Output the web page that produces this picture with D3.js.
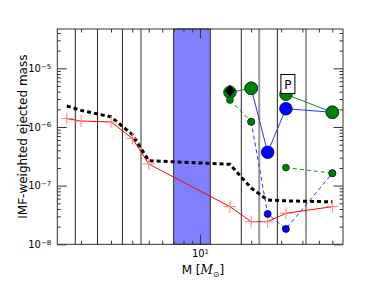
<!DOCTYPE html>
<html>
<head>
<meta charset="utf-8">
<script src="https://cdn.jsdelivr.net/npm/d3@7"></script>
<style>
  body { margin: 0; background: #fff; }
  text { font-family: "DejaVu Sans", sans-serif; fill: #000; }
</style>
</head>
<body>
<svg id="chart" width="382" height="288"></svg>
<script>
// masses of the low mass models and the two yield curves
var masses = [1.65, 2, 3, 4, 5, 15, 20, 25, 32, 60];
var redYield = [1.39e-6, 1.26e-6, 1.22e-6, 6.4e-7, 2.34e-7, 4.38e-8, 2.43e-8, 2.43e-8, 3.38e-8, 4.38e-8];
var blackYield = [2.28e-6, 1.92e-6, 1.49e-6, 7.45e-7, 2.66e-7, 2.31e-7, 9.1e-8, 5.7e-8, 5.5e-8, 5.3e-8];

// massive star models (null = no model)
var hiMasses = [15, 20, 25, 32, 60];
var greenBig = [3.9e-6, 4.56e-6, null, 3.6e-6, 1.78e-6];
var greenSmall = [2.88e-6, 1.23e-6, null, 2.03e-7, 1.63e-7];
var blueBig = [null, 4.56e-6, 3.7e-7, 2.05e-6, 1.78e-6];
var blueSmall = [null, 1.23e-6, 3.3e-8, 1.83e-8, 1.63e-7];
var diamondMass = [15];
var diamondYield = [4.15e-6];
var labelMass = [32];
var labelYield = [5.4e-6];
var labelText = ["P"];

// vertical reference lines and the shaded band
var darkLines = [1.85, 2.5, 3.5, 17.5, 28.5];
var grayLines = [4.5, 22.3, 42];
var band = [7, 11.5];

// ticks
var xMajor = [10];
var xMinor = [2, 3, 4, 5, 6, 7, 8, 9, 20, 30, 40, 50, 60];
var yMajor = [1e-8, 1e-7, 1e-6, 1e-5];
var yMajorLabels = ["−8", "−7", "−6", "−5"];
var yMinor = [];
[1e-8, 1e-7, 1e-6, 1e-5].forEach(function(d) {
  [2, 3, 4, 5, 6, 7, 8, 9].forEach(function(k) { if (d * k < 4.68e-5) yMinor.push(d * k); });
});

var svg = d3.select("#chart"),
    margin = {top: 29, right: 39, bottom: 43.7, left: 57.3},
    width = +svg.attr("width") - margin.left - margin.right,
    height = +svg.attr("height") - margin.top - margin.bottom;

var x = d3.scaleLog().domain([1.45, 69.3]).range([0, width]),
    y = d3.scaleLog().domain([1e-8, 4.68e-5]).range([height, 0]);

var g = svg.append("g")
    .attr("transform", "translate(" + margin.left + "," + margin.top + ")");

// shaded band
g.append("rect")
    .attr("x", x(band[0]))
    .attr("y", 0)
    .attr("width", x(band[1]) - x(band[0]))
    .attr("height", height)
    .attr("fill", "#8080ff")
    .attr("stroke", "#333")
    .attr("stroke-width", 1);

// vertical lines
g.selectAll(".vdark")
  .data(darkLines)
  .enter().append("line")
    .attr("x1", function(d) { return x(d); })
    .attr("x2", function(d) { return x(d); })
    .attr("y1", 0).attr("y2", height)
    .attr("stroke", "#222").attr("stroke-width", 1);

g.selectAll(".vgray")
  .data(grayLines)
  .enter().append("line")
    .attr("x1", function(d) { return x(d); })
    .attr("x2", function(d) { return x(d); })
    .attr("y1", 0).attr("y2", height)
    .attr("stroke", "#999").attr("stroke-width", 2);

// lines
function makeLine(xs) {
  return d3.line()
    .defined(function(d) { return d !== null; })
    .x(function(d, i) { return x(xs[i]); })
    .y(function(d) { return y(d); });
}

g.append("path")
    .attr("d", makeLine(masses)(redYield))
    .attr("fill", "none").attr("stroke", "#ff0000").attr("stroke-width", 1);

g.append("path")
    .attr("d", makeLine(masses)(blackYield))
    .attr("fill", "none").attr("stroke", "#000").attr("stroke-width", 3)
    .attr("stroke-dasharray", "4,3");

// red plus markers
var plus = g.selectAll(".plus")
  .data(redYield)
  .enter().append("g")
    .attr("transform", function(d, i) { return "translate(" + x(masses[i]) + "," + y(d) + ")"; });
plus.append("line").attr("x1", -6).attr("x2", 6).attr("stroke", "#ff8080");
plus.append("line").attr("y1", -6).attr("y2", 6).attr("stroke", "#ff8080");

// blue series first so the green ones sit on top
g.append("path")
    .attr("d", makeLine(hiMasses)(blueBig))
    .attr("fill", "none").attr("stroke", "#3030ff").attr("stroke-width", 1);
g.append("path")
    .attr("d", makeLine(hiMasses)(blueSmall))
    .attr("fill", "none").attr("stroke", "#3030ff").attr("stroke-width", 1)
    .attr("stroke-dasharray", "4,3");
g.append("path")
    .attr("d", makeLine(hiMasses)(greenBig))
    .attr("fill", "none").attr("stroke", "#1a8a1a").attr("stroke-width", 1);
g.append("path")
    .attr("d", makeLine(hiMasses)(greenSmall))
    .attr("fill", "none").attr("stroke", "#1a8a1a").attr("stroke-width", 1)
    .attr("stroke-dasharray", "4,3");

function dots(values, r, fill, edge) {
  g.append("g").selectAll("circle")
    .data(values.map(function(v, i) { return {m: hiMasses[i], v: v}; })
      .filter(function(d) { return d.v !== null; }))
    .enter().append("circle")
      .attr("cx", function(d) { return x(d.m); })
      .attr("cy", function(d) { return y(d.v); })
      .attr("r", r)
      .attr("fill", fill)
      .attr("stroke", edge)
      .attr("stroke-width", 0.8);
}

dots(blueBig, 6.3, "#0000ff", "#00007a");
dots(blueSmall, 3.5, "#0000ff", "#00007a");
dots(greenBig, 6.3, "#008000", "#004000");
dots(greenSmall, 3.4, "#008000", "#004000");

// black diamond
g.selectAll(".diamond")
  .data(diamondYield)
  .enter().append("path")
    .attr("transform", function(d, i) { return "translate(" + x(diamondMass[i]) + "," + y(d) + ")"; })
    .attr("d", "M0,-6L5,0L0,6L-5,0Z")
    .attr("fill", "#000");

// boxed label
var lab = g.selectAll(".lab")
  .data(labelYield)
  .enter().append("g")
    .attr("transform", function(d, i) { return "translate(" + (x(labelMass[i]) + 2) + "," + y(d) + ")"; });
lab.append("rect")
    .attr("x", -7).attr("y", -9.5).attr("width", 14).attr("height", 19)
    .attr("fill", "#fff").attr("stroke", "#000").attr("stroke-width", 1);
lab.append("text")
    .attr("text-anchor", "middle").attr("y", 4.5)
    .style("font-size", "12px")
    .text(function(d, i) { return labelText[i]; });

// axes, ticks pointing inward on all four sides
g.append("g")
    .attr("transform", "translate(0," + height + ")")
    .call(d3.axisBottom(x).tickValues(xMinor).tickSizeInner(-3.5).tickSizeOuter(0).tickFormat(""));
var xb = g.append("g")
    .attr("class", "xmajor")
    .attr("transform", "translate(0," + height + ")")
    .call(d3.axisBottom(x).tickValues(xMajor).tickSizeInner(-9.5).tickSizeOuter(0).tickPadding(6));
g.append("g")
    .call(d3.axisTop(x).tickValues(xMinor).tickSizeInner(-3.5).tickSizeOuter(0).tickFormat(""));
g.append("g")
    .call(d3.axisTop(x).tickValues(xMajor).tickSizeInner(-9.5).tickSizeOuter(0).tickFormat(""));

g.append("g")
    .call(d3.axisLeft(y).tickValues(yMinor).tickSizeInner(-3.5).tickSizeOuter(0).tickFormat(""));
var yl = g.append("g")
    .call(d3.axisLeft(y).tickValues(yMajor).tickSizeInner(-9.5).tickSizeOuter(0).tickPadding(6));
g.append("g")
    .attr("transform", "translate(" + width + ",0)")
    .call(d3.axisRight(y).tickValues(yMinor).tickSizeInner(-3.5).tickSizeOuter(0).tickFormat(""));
g.append("g")
    .attr("transform", "translate(" + width + ",0)")
    .call(d3.axisRight(y).tickValues(yMajor).tickSizeInner(-9.5).tickSizeOuter(0).tickFormat(""));

g.selectAll(".domain").remove();
g.selectAll(".tick line").attr("stroke", "#333");

// power of ten labels
xb.selectAll(".tick text")
    .text(null)
    .style("font-size", "10px")
    .call(function(t) {
      t.append("tspan").text("10");
      t.append("tspan").attr("dy", "-0.45em").style("font-size", "7px").text("1");
    });

yl.selectAll(".tick text")
    .text(null)
    .style("font-size", "10px")
    .each(function(d, i) {
      var t = d3.select(this);
      t.append("tspan").text("10");
      t.append("tspan").attr("dy", "-0.5em").style("font-size", "7px").text(yMajorLabels[i]);
    });

// frame
g.append("rect")
    .attr("width", width).attr("height", height)
    .attr("fill", "none").attr("stroke", "#333").attr("stroke-width", 1);

// axis labels
var xt = svg.append("text")
    .attr("x", margin.left + x(10) + 3)
    .attr("y", 274)
    .attr("text-anchor", "middle")
    .style("font-size", "12px");
xt.append("tspan").text("M [");
xt.append("tspan").style("font-family", "'DejaVu Serif', serif").style("font-style", "italic").text("M");
xt.append("tspan").attr("dy", 3).style("font-size", "8px").text("⊙");
xt.append("tspan").attr("dy", -3).text("]");

svg.append("text")
    .attr("transform", "translate(27," + (margin.top + height / 2) + ") rotate(-90)")
    .attr("text-anchor", "middle")
    .style("font-size", "12px")
    .text("IMF-weighted ejected mass");
</script>
</body>
</html>
